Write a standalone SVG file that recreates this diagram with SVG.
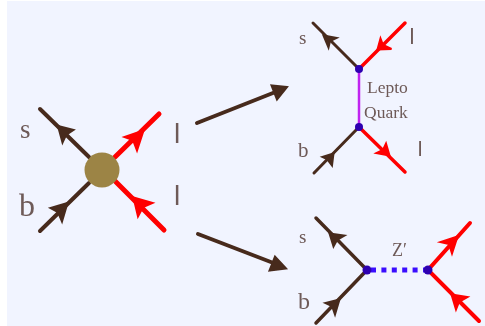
<svg xmlns="http://www.w3.org/2000/svg" width="485" height="326" viewBox="0 0 485 326">
<style>
.q{stroke:#472a1c;stroke-width:4;stroke-linecap:round;fill:none}
.r{stroke:#ff0000;stroke-width:5;stroke-linecap:round;fill:none}
.qh{fill:#472a1c;stroke:#472a1c;stroke-width:2;stroke-linejoin:miter}
.rh{fill:#ff0000;stroke:#ff0000;stroke-width:2;stroke-linejoin:miter}
.v{fill:#2f00b0}
.t{font-family:"Liberation Serif",serif;fill:#6e5a58}
.l{font-family:"Liberation Sans",sans-serif;fill:#6e5a58}
</style>
<defs><filter id="soft" filterUnits="userSpaceOnUse" x="0" y="0" width="485" height="326"><feGaussianBlur stdDeviation="0.45"/></filter></defs>
<rect x="7" y="1" width="478" height="325" fill="#f1f4ff"/>
<g filter="url(#soft)">
<g id="connectors">
<path class="q" d="M197 123L278 91"/>
<polygon class="qh" points="287,87 271.500,85.500 277,99.500"/>
<path class="q" d="M198 234L276 264"/>
<polygon class="qh" points="286,268.500 275,256.500 269.500,270.500"/>
</g>
<g id="blob">
<path class="q" d="M40 109L89 157M40 231L89 183"/>
<path class="r" d="M159 114L115 157M164 230L115 181"/>
<polygon class="qh" points="58,126 73.500,130 66,135 62.500,142.500"/>
<polygon class="qh" points="67.500,203 50.500,208 58,212 62,221.500"/>
<polygon class="rh" points="143.500,130.500 124.500,137 133,140 137,150.500"/>
<polygon class="rh" points="133.500,197.500 152.500,203 143,207 138,216.500"/>
<circle cx="102" cy="170" r="17.500" fill="#9c8445"/>
<text class="t" x="20" y="138" font-size="27">s</text>
<text class="t" x="19" y="216" font-size="32">b</text>
<text class="l" x="174" y="143" font-size="28">l</text>
<text class="l" x="174" y="205" font-size="28">l</text>
</g>
<g id="leptoquark">
<path d="M359 69V127" stroke="#c020f0" stroke-width="2.500" fill="none"/>
<path class="q" style="stroke-width:3" d="M313 23L359 69M314 173L359 127"/>
<path class="r" style="stroke-width:3.500" d="M405 23L359 69M405 172L359 127"/>
<polygon class="qh" points="323.500,35.500 336.500,38 330,41 328.500,47.500"/>
<polygon class="qh" points="333.500,153.500 322.500,157 327,159 332,165.500"/>
<polygon class="rh" points="377.500,49.500 391.500,49 383,45 380.500,38.500"/>
<polygon class="rh" points="389.500,155.500 376.500,153 383,150 386,143.500"/>
<circle class="v" cx="359" cy="69" r="4"/>
<circle class="v" cx="359" cy="127" r="4"/>
<text class="t" x="299" y="44" font-size="19">s</text>
<text class="l" x="409.500" y="44" font-size="22">l</text>
<text class="t" x="298" y="157" font-size="21">b</text>
<text class="l" x="417.700" y="156" font-size="21">l</text>
<text class="t" x="367" y="93" font-size="17.500">Lepto</text>
<text class="t" x="364" y="118" font-size="17.500">Quark</text>
</g>
<g id="zprime">
<path d="M371 270H428" stroke="#3a10ff" stroke-width="5" stroke-dasharray="5 5.400" fill="none"/>
<path class="q" style="stroke-width:3.500" d="M316 218L367 270L316 323"/>
<path class="r" style="stroke-width:4" d="M470 223L428 270L479 321"/>
<polygon class="qh" points="329.500,233.500 344.500,235.500 337,240 333.500,246.500"/>
<polygon class="qh" points="339.500,299.500 325.500,303 332,306 335,314.500"/>
<polygon class="rh" points="457.500,236.500 440.500,242 449,244 452,253.500"/>
<polygon class="rh" points="451.500,294.500 467.500,297 459,302 456,309.500"/>
<circle class="v" cx="367" cy="270" r="4.500"/>
<circle class="v" cx="428" cy="270" r="4.500"/>
<text class="t" x="299" y="243" font-size="19">s</text>
<text class="t" x="298" y="309" font-size="24">b</text>
<text class="t" x="392" y="256" font-size="18">Z′</text>
</g>
</g>
</svg>
